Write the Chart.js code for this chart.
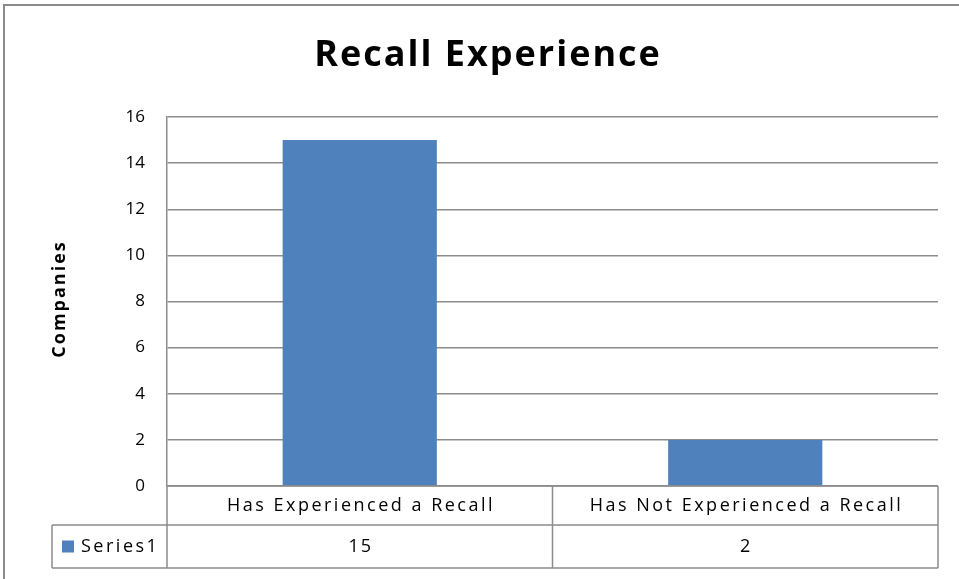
<!DOCTYPE html>
<html>
<head>
<meta charset="utf-8">
<script src="https://cdn.jsdelivr.net/npm/chart.js@4"></script>
<style>
  html, body { margin: 0; padding: 0; background: #fff; }
  #wrap { width: 959px; height: 579px; }
</style>
</head>
<body>
<div id="wrap"><canvas id="chart_recall" width="959" height="579"></canvas></div>
<script>
// chart data
var chartTitle = 'Recall Experience';
var yAxisTitle = 'Companies';
var categories = ['Has Experienced a Recall', 'Has Not Experienced a Recall'];
var seriesName = 'Series1';
var seriesValues = [15, 2];
var yTicks = [0, 2, 4, 6, 8, 10, 12, 14, 16];

var FONT = "'Open Sans', 'Lato', sans-serif";
var BAR_COLOR = '#4F81BD';
var LINE_COLOR = '#8c8c8c';

// spaced-out text, the way the original renders it
function spacedText(ctx, text, x, y, spacing) {
    ctx.letterSpacing = spacing + 'px';
    var w = ctx.measureText(text).width - spacing;
    var align = ctx.textAlign;
    var left = align === 'center' ? x - w / 2 : x;
    ctx.textAlign = 'left';
    ctx.fillText(text, left, y);
    ctx.textAlign = align;
    ctx.letterSpacing = '0px';
}

// frame, titles and the data table under the plot
var tablePlugin = {
    id: 'dataTable',
    beforeDraw: function(chart) {
        var ctx = chart.ctx;
        ctx.save();
        ctx.fillStyle = 'white';
        ctx.fillRect(0, 0, chart.width, chart.height);
        ctx.strokeStyle = '#8a8a8a';
        ctx.lineWidth = 2;
        ctx.strokeRect(4, 5, chart.width + 10, chart.height + 10);
        ctx.restore();
    },
    afterDraw: function(chart) {
        var ctx = chart.ctx;
        var area = chart.chartArea;
        var x = chart.scales.x;
        var top = area.bottom;
        var row1 = top + 39;
        var row2 = top + 82;
        var keyLeft = 52;
        var half = (x.getPixelForTick(1) - x.getPixelForTick(0)) / 2;
        var edges = [area.left];
        for (var i = 0; i < categories.length; i++) {
            edges.push(x.getPixelForTick(i) + half);
        }
        ctx.save();
        ctx.strokeStyle = LINE_COLOR;
        ctx.lineWidth = 1.5;
        ctx.beginPath();
        ctx.moveTo(area.left, top); ctx.lineTo(area.right, top);
        ctx.moveTo(keyLeft, row1); ctx.lineTo(area.right, row1);
        ctx.moveTo(keyLeft, row2); ctx.lineTo(area.right, row2);
        ctx.moveTo(keyLeft, row1); ctx.lineTo(keyLeft, row2);
        edges.forEach(function(e) {
            ctx.moveTo(e, top); ctx.lineTo(e, row2);
        });
        ctx.stroke();

        ctx.fillStyle = '#000';
        ctx.textBaseline = 'middle';
        ctx.textAlign = 'center';

        // title
        ctx.font = 'bold 36px ' + FONT;
        spacedText(ctx, chartTitle, 487, 56, 2);

        // y axis title
        ctx.save();
        ctx.translate(60, 300);
        ctx.rotate(-Math.PI / 2);
        ctx.font = 'bold 18px ' + FONT;
        spacedText(ctx, yAxisTitle, 0, 0, 2);
        ctx.restore();

        ctx.font = '18px ' + FONT;
        for (var j = 0; j < categories.length; j++) {
            var cx = x.getPixelForTick(j);
            spacedText(ctx, categories[j], cx, (top + row1) / 2, 2.5);
            spacedText(ctx, String(seriesValues[j]), cx, (row1 + row2) / 2, 2);
        }
        ctx.fillStyle = BAR_COLOR;
        ctx.fillRect(62, (row1 + row2) / 2 - 6, 12, 12);
        ctx.fillStyle = '#000';
        ctx.textAlign = 'left';
        spacedText(ctx, seriesName, 81, (row1 + row2) / 2, 2.5);
        ctx.restore();
    }
};

var chart_recall = new Chart(document.getElementById('chart_recall'), {
    type: 'bar',
    data: {
        labels: categories,
        datasets: [{
            label: seriesName,
            data: seriesValues,
            backgroundColor: BAR_COLOR,
            borderWidth: 0,
            barPercentage: 0.4,
            categoryPercentage: 1
        }]
    },
    options: {
        animation: false,
        responsive: false,
        layout: {
            padding: { left: 0, top: 117, right: 21, bottom: 93 }
        },
        plugins: {
            legend: { display: false },
            tooltip: { enabled: false },
            title: { display: false }
        },
        scales: {
            x: {
                ticks: { display: false },
                grid: { display: false },
                border: { display: false },
                afterFit: function(s) { s.height = 0; }
            },
            y: {
                min: 0,
                max: 16,
                afterBuildTicks: function(s) {
                    s.ticks = yTicks.map(function(v) { return { value: v }; });
                },
                afterFit: function(s) { s.width = 167; },
                ticks: {
                    color: '#000',
                    padding: 22,
                    font: { family: FONT, size: 17 }
                },
                grid: {
                    color: LINE_COLOR,
                    lineWidth: 1.5,
                    drawTicks: false
                },
                border: { color: LINE_COLOR, width: 1.5 }
            }
        }
    },
    plugins: [tablePlugin]
});
</script>
</body>
</html>
